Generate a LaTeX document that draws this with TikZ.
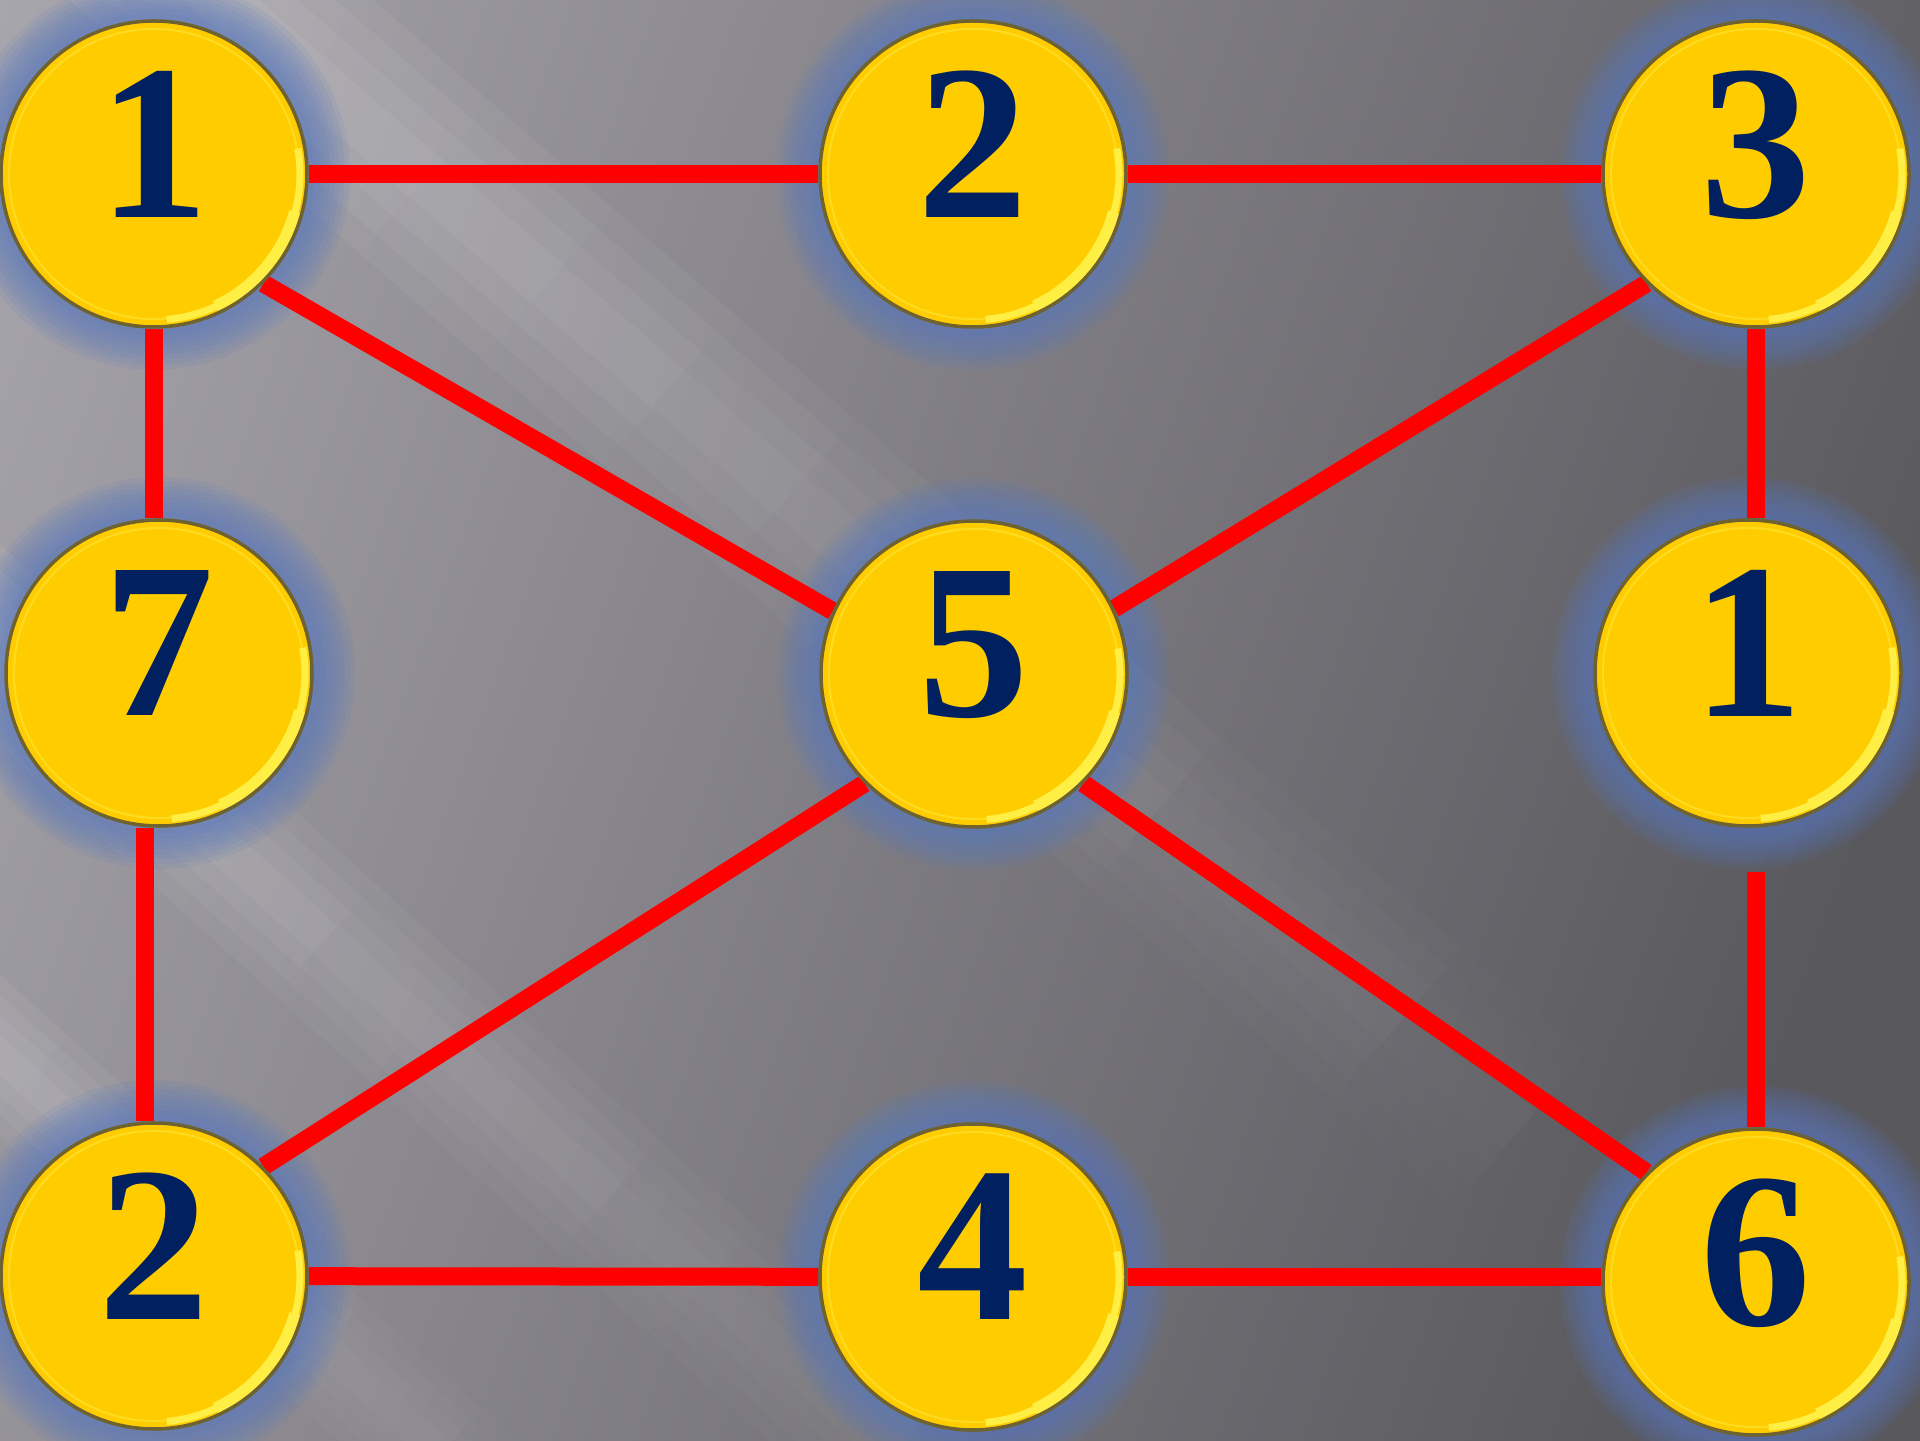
\documentclass[tikz,border=0pt]{standalone}
\usepackage{fontspec}
\setmainfont{Liberation Serif}
\usetikzlibrary{calc}
\definecolor{slatelight}{HTML}{C0BEC5}
\definecolor{slatemid}{HTML}{8A888E}
\definecolor{slatedark}{HTML}{59585D}
\definecolor{coingold}{HTML}{FFCC00}
\definecolor{coinshine}{HTML}{FFEE44}
\definecolor{coinrim}{HTML}{6E6230}
\definecolor{digitnavy}{HTML}{002060}
\definecolor{haloblue}{HTML}{5878C0}
\pgfdeclarehorizontalshading{slate}{100bp}{color(0bp)=(slatelight); color(40bp)=(slatemid); color(75bp)=(slatedark); color(100bp)=(slatedark)}
\pgfdeclarelayer{bg}
\pgfsetlayers{bg,main}

\begin{document}
\begin{tikzpicture}[
    coin/.style={circle, minimum size=3.06cm, inner sep=0pt, fill=coingold, draw=coinrim, line width=1pt,
      text=digitnavy, text depth=0.6cm, font=\fontsize{63}{63}\selectfont\bfseries,
      path picture={
        \draw [coinshine!45!coingold, line width=0.6pt] (path picture bounding box.center) circle (1.45);
        \draw [coinshine, line width=2pt] ([shift={(-85:1.46)}]path picture bounding box.center) arc (-85:10:1.46);
        \draw [coinshine, line width=4pt] ([shift={(-65:1.47)}]path picture bounding box.center) arc (-65:-15:1.47);
      }},
    edge/.style={red, line width=0.18cm}
  ]
  \useasboundingbox (0, 0) rectangle (19.2, 14.4);

  % coins
  \node [coin] (tl) at (1.54, 12.66) {1};
  \node [coin] (tm) at (9.73, 12.66) {2};
  \node [coin] (tr) at (17.56, 12.66) {3};
  \node [coin] (ml) at (1.59, 7.67) {7};
  \node [coin] (mc) at (9.74, 7.66) {5};
  \node [coin] (mr) at (17.48, 7.67) {1};
  \node [coin] (bl) at (1.54, 1.64) {2};
  \node [coin] (bm) at (9.73, 1.63) {4};
  \node [coin] (br) at (17.56, 1.58) {6};
  \coordinate (gap) at (17.56, 5.68);

  \begin{pgfonlayer}{bg}
    \shade [shading=slate, shading angle=-20] (0, 0) rectangle (19.2, 14.4);
    % light streaks, fading along their length
    \begin{scope}
      \clip (0, 0) rectangle (19.2, 14.4);
      \foreach \a/\b/\w in {{0.6,15.8}/{15.2,3.1}/2.0, {-1.5,9.3}/{9.9,-1.0}/1.5, {-1.5,5.2}/{5.6,-1.2}/1.2}
        \foreach \i in {0,...,11} {
          \pgfmathsetmacro\ta{\i/12}
          \pgfmathsetmacro\tb{(\i+1)/12}
          \pgfmathsetmacro\op{0.06*(1-\i/13)}
          \foreach \f in {1, 0.75, 0.5, 0.25}
            \draw [white, opacity=\op, line width=\f*\w*1cm] ($(\a)!\ta!(\b)$) -- ($(\a)!\tb!(\b)$);
        }
    \end{scope}
    % halos
    \foreach \n in {tl, tm, tr, ml, mc, mr, bl, bm, br}
      \foreach \r in {1.96, 1.91, 1.86, 1.81, 1.76, 1.71, 1.66, 1.61}
        \fill [haloblue, opacity=0.12] (\n) circle (\r);
    % edges
    \draw [edge] (tl) -- (tm);
    \draw [edge] (tm) -- (tr);
    \draw [edge] (tl.south) -- (tl.south |- ml.north);
    \draw [edge] (tl.-45) -- (mc.156);
    \draw [edge] (tr.225) -- (mc.25);
    \draw [edge] (tr) -- (tr |- mr.north);
    \draw [edge] (br) -- (gap);
    \draw [edge] ([xshift=-0.09cm]bl.north) -- ([xshift=-0.09cm]bl.north |- ml.south);
    \draw [edge] (mc.225) -- (bl.45);
    \draw [edge] (mc.-45) -- (br.135);
    \draw [edge] (bl) -- (bm);
    \draw [edge] (bm.east) -- (bm.east -| br.west);
  \end{pgfonlayer}
\end{tikzpicture}
\end{document}
